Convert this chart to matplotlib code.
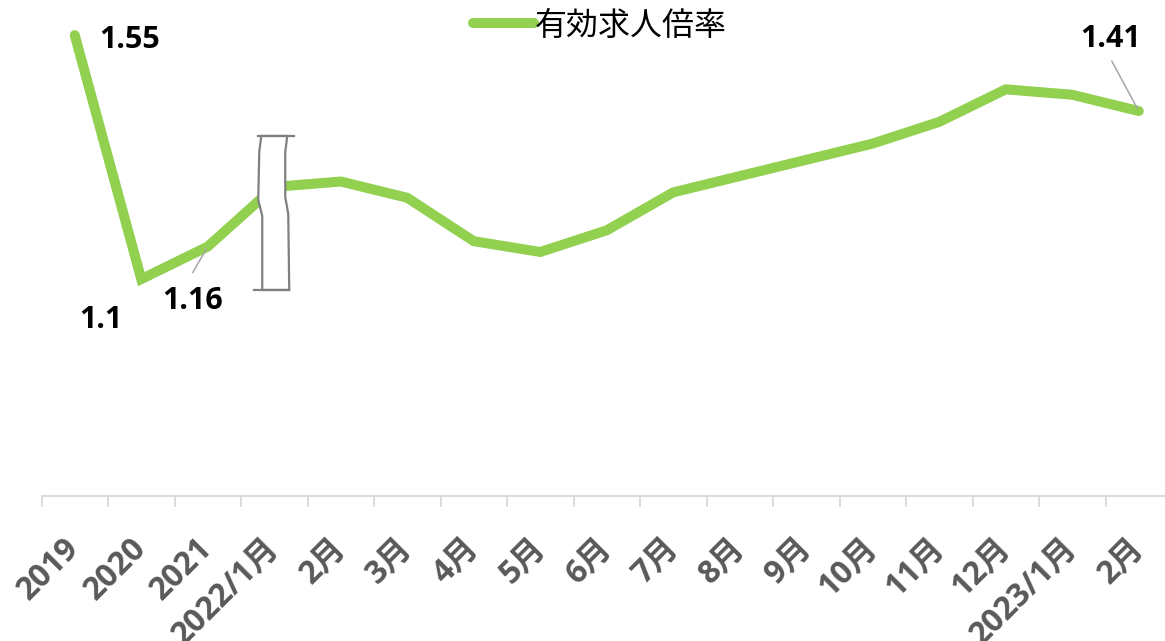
import matplotlib
matplotlib.use("Agg")
import matplotlib.pyplot as plt
import matplotlib.transforms as mtransforms
from matplotlib.patches import Polygon
import numpy as np

plt.rcParams['font.family'] = ['Open Sans', 'Noto Sans CJK JP', 'DejaVu Sans']

categories = ['2019', '2020', '2021', '2022/1月', '2月', '3月', '4月', '5月', '6月',
              '7月', '8月', '9月', '10月', '11月', '12月', '2023/1月', '2月']
values = [1.55, 1.10, 1.16, 1.27, 1.28, 1.25, 1.17, 1.15, 1.19,
          1.26, 1.29, 1.32, 1.35, 1.39, 1.45, 1.44, 1.41]
series_name = '有効求人倍率'
labelled = {0: '1.55', 1: '1.1', 2: '1.16', 16: '1.41'}

line_color = '#92D050'
tick_color = '#595959'
axis_color = '#D9D9D9'

fig = plt.figure(figsize=(11.65, 6.41), dpi=100)
W, H = 1165, 641
ax_left = 41.5 / W
ax_bottom = (H - 496) / H
ax_width = 17 * 66.5 / W
ax_height = 488 / H
ax = fig.add_axes([ax_left, ax_bottom, ax_width, ax_height])

x = np.arange(len(categories))
ln, = ax.plot(x, values, color=line_color, lw=7.2, solid_joinstyle='miter',
              solid_capstyle='round', label=series_name, zorder=3)

ax.set_xlim(-0.5, len(categories) - 0.5)
ax.set_ylim(0.7, 1.6)

for s in ['top', 'right', 'left']:
    ax.spines[s].set_visible(False)
ax.spines['bottom'].set_color(axis_color)
ax.spines['bottom'].set_linewidth(1.3)
ax.set_yticks([])

ax.set_xticks(x)
ax.set_xticklabels(categories, rotation=45, ha='right', va='center',
                   rotation_mode='anchor', fontsize=23, fontweight='bold',
                   color=tick_color)
ax.tick_params(axis='x', which='major', length=0, pad=34)
ax.set_xticks(np.arange(-0.5, len(categories), 1.0), minor=True)
ax.tick_params(axis='x', which='minor', length=8, width=1.3, color=axis_color,
               direction='out')
for lbl in ax.get_xticklabels():
    lbl.set_transform(lbl.get_transform() +
                      mtransforms.ScaledTranslation(0, 0, fig.dpi_scale_trans))

# data labels (offsets in pixels)
label_offsets = {0: (55, -5), 1: (-40, -41), 2: (-15, -54), 16: (-28, 72)}
for i, txt in labelled.items():
    ax.annotate(txt, xy=(x[i], values[i]), xytext=label_offsets[i],
                textcoords='offset pixels', ha='center', va='center',
                fontsize=22, fontweight='bold', color='black', zorder=5)

# leader lines
leaders = {2: (-15, -26), 16: (-27, 50)}
for i, off in leaders.items():
    ax.annotate('', xy=(x[i], values[i]), xytext=off, textcoords='offset pixels',
                arrowprops=dict(arrowstyle='-', color='#A6A6A6', lw=1.1,
                                shrinkA=0, shrinkB=2), zorder=4)

# axis-break decoration around 2022/1
trans = fig.dpi_scale_trans + mtransforms.ScaledTranslation(3, 1.222, ax.transData)
cx, cy = 278, 211
shape_px = [(265, 134), (291, 134), (289, 150), (289, 195), (292, 212), (293, 288),
            (266, 288), (266, 214), (262, 198), (263, 150)]
verts = [((px - cx) / 100, -(py - cy) / 100) for px, py in shape_px]
poly = Polygon(verts, closed=True, facecolor='white', edgecolor='#808080',
               lw=1.6, transform=trans, zorder=4, clip_on=False)
ax.add_patch(poly)
for (x0, x1, yy) in [(262, 298, 134), (258, 293, 288)]:
    ax.plot([(x0 - cx) / 100, (x1 - cx) / 100], [-(yy - cy) / 100] * 2,
            color='#808080', lw=1.6, transform=trans, zorder=4, clip_on=False)

leg = fig.legend(handles=[ln], loc='center', bbox_to_anchor=(0.515, 1 - 26 / H),
                 frameon=False, fontsize=23, handlelength=1.9, handletextpad=0.05,
                 borderpad=0, borderaxespad=0)

fig.savefig('out.png', dpi=100)
